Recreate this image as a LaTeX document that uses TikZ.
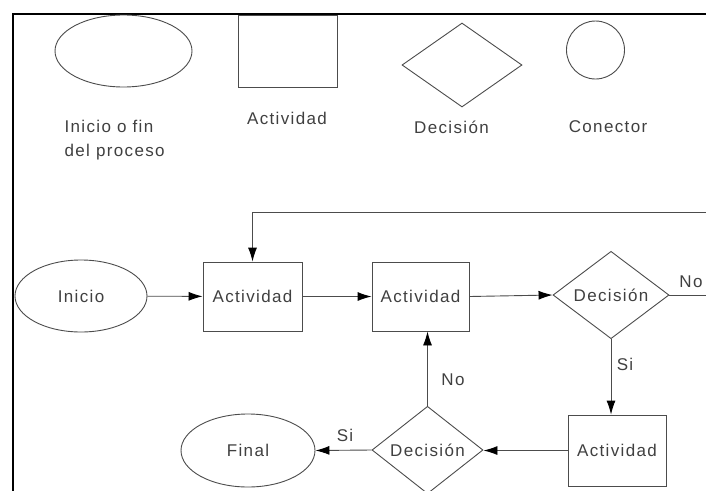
\documentclass[tikz,border=0pt]{standalone}
\usepackage{fontspec}
\setmainfont{Liberation Sans}[LetterSpace=8]
\usepackage{tikz}
\usetikzlibrary{positioning,arrows.meta,shapes.geometric,calc}

\begin{document}
\begin{tikzpicture}[
  x=1pt,y=-1pt,
  >={Latex[length=14pt,width=9pt,color=black]},
  every node/.style={font=\fontsize{17}{24}\selectfont,text=black!75},
  shp/.style={draw=black!70,line width=0.9pt,inner sep=0pt},
  term/.style={shp,ellipse},
  act/.style={shp,rectangle},
  dec/.style={shp,diamond},
  conn/.style={shp,circle,minimum size=58pt},
  flow/.style={->,draw=black!70,line width=0.9pt},
  frame/.style={draw=black,line width=2.5pt}
]
\useasboundingbox (0,0) rectangle (706,490);
\clip (0,0) rectangle (706,490);
\fill[white] (0,0) rectangle (706,490);

% marco
\draw[frame] (13,500) |- (720,14);

% Leyenda
\node[term,minimum width=137pt,minimum height=72pt] (lgTerm) at (123.5,51) {};
\node[act,minimum width=99pt,minimum height=72pt] (lgAct) at (287.5,51) {};
\node[dec,minimum width=120pt,minimum height=84pt] (lgDec) at (462,65) {};
\node[conn] (lgConn) at (595.5,50) {};

\node[align=left,anchor=west] (txTerm) at (61,140) {Inicio o fin\\del proceso};
\node (txAct) at (287,118) {Actividad};
\node (txDec) at (451.5,127) {Decisión};
\node (txConn) at (608,127) {Conector};

% Diagrama
\node[term,minimum width=132pt,minimum height=72pt] (inicio) at (81,296) {Inicio};
\node[act,minimum width=99pt,minimum height=69pt] (act1) at (252.5,296.5) {Actividad};
\node[act,minimum width=97pt,minimum height=69pt] (act2) at (420.5,296.5) {Actividad};
\node[dec,minimum width=116pt,minimum height=84pt] (dec1) at (611,295) {Decisión};
\node[act,minimum width=98pt,minimum height=71pt] (act3) at (617,450.5) {Actividad};
\node[dec,minimum width=111pt,minimum height=82pt] (dec2) at (427.5,450) {Decisión};
\node[term,minimum width=134pt,minimum height=73pt] (final) at (248,450.5) {Final};

\coordinate (vuelta) at (720,212);

\draw[flow] (inicio) -- (act1);
\draw[flow] (act1) -- (act2);
\draw[flow] (act2.east) -- (dec1.west);
\draw[flow] (dec1.east) -| (vuelta) -| (act1.north);
\draw[flow] (dec1.south) -- (dec1.south |- act3.north);
\draw[flow] (act3.west) -- (act3.west -| dec2.east);
\draw[flow] (dec2.west) -- (final.east);
\draw[flow] (dec2.north) -- (dec2.north |- act2.south);

\node (noA) at (691,282) {No};
\node (siA) at (625,364) {Si};
\node (siB) at (345,435) {Si};
\node (noB) at (453,380) {No};
\end{tikzpicture}
\end{document}
